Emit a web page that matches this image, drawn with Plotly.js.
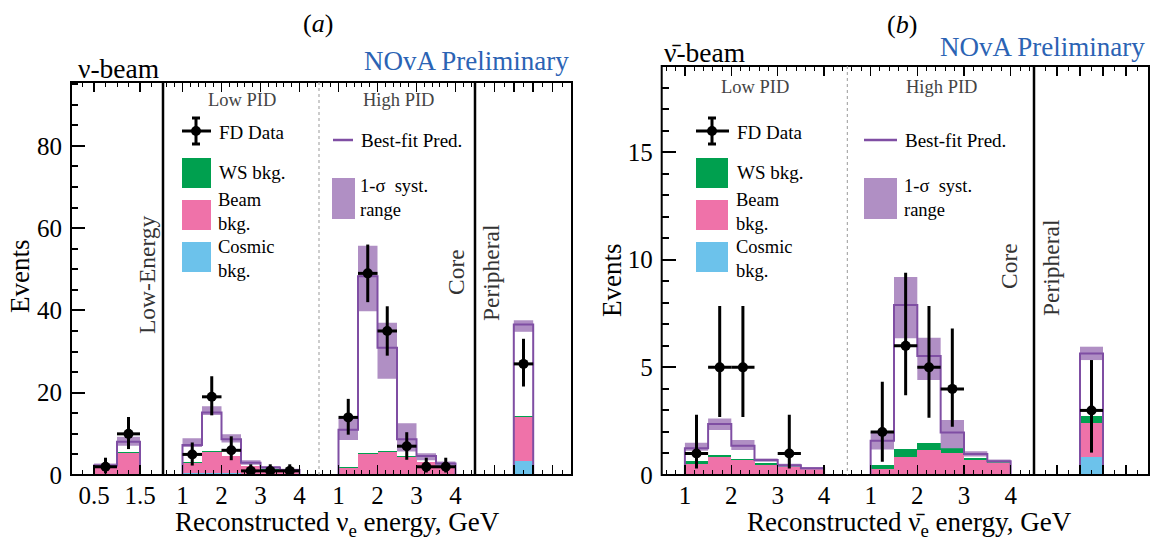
<!DOCTYPE html>
<html><head><meta charset="utf-8">
<script src="https://cdn.plot.ly/plotly-3.0.1.min.js"></script>
<style>html,body{margin:0;padding:0;background:#fff}</style>
</head><body><div id="chart" style="width:1150px;height:543px"></div>
<script>
// ---------------- DATA ----------------
// Panel (a): nu-beam
const aLE_centers = [0.75, 1.25];
const aLE_cosmic  = [0.1, 0.3];
const aLE_beam    = [1.7, 5.0];
const aLE_ws      = [0.1, 0.2];
const aLE_pred    = [2.3, 8.1];
const aLE_sysLo   = [1.9, 7.1];
const aLE_sysHi   = [2.8, 9.3];
const aLE_dataE   = [0.75, 1.25];
const aLE_data    = [2, 10];
const aLE_errUp   = [2.2, 4.1];
const aLE_errDn   = [1.6, 3.7];

const aLow_centers = [1.25, 1.75, 2.25, 2.75, 3.25, 3.75];
const aLow_cosmic  = [0.4, 0.6, 0.4, 0.2, 0.1, 0.1];
const aLow_beam    = [2.5, 5.1, 4.1, 2.0, 1.2, 0.9];
const aLow_ws      = [0.3, 0.2, 0.2, 0.1, 0.1, 0.05];
const aLow_pred    = [7.3, 15.2, 8.7, 3.0, 1.8, 1.2];
const aLow_sysLo   = [6.8, 14.6, 7.9, 2.5, 1.5, 1.0];
const aLow_sysHi   = [8.9, 16.7, 9.9, 3.6, 2.2, 1.5];
const aLow_dataE   = [1.25, 1.75, 2.25, 2.75, 3.25, 3.75];
const aLow_data    = [5, 19, 6, 1, 1, 1];
const aLow_errUp   = [2.9, 5.0, 3.4, 1.6, 1.6, 1.6];
const aLow_errDn   = [2.7, 4.5, 2.4, 0.8, 0.8, 0.8];

const aHigh_centers = [1.25, 1.75, 2.25, 2.75, 3.25, 3.75];
const aHigh_cosmic  = [0.05, 0.1, 0.1, 0.05, 0.05, 0.05];
const aHigh_beam    = [1.7, 5.0, 5.5, 4.4, 3.0, 2.3];
const aHigh_ws      = [0.2, 0.3, 0.3, 0.1, 0.1, 0.1];
const aHigh_pred    = [11.0, 48.3, 30.9, 8.7, 4.6, 2.8];
const aHigh_sysLo   = [8.5, 39.8, 23.4, 5.7, 3.6, 2.2];
const aHigh_sysHi   = [13.8, 55.7, 37.0, 12.6, 5.3, 3.3];
const aHigh_dataE   = [1.25, 1.75, 2.25, 2.75, 3.25, 3.75];
const aHigh_data    = [14, 49, 35, 7, 2, 2];
const aHigh_errUp   = [4.5, 7.0, 6.0, 3.4, 2.2, 2.2];
const aHigh_errDn   = [4.2, 7.0, 6.0, 3.3, 1.4, 1.4];

const aPer_centers = [2.5];
const aPer_cosmic  = [3.5];
const aPer_beam    = [10.6];
const aPer_ws      = [0.3];
const aPer_pred    = [36.6];
const aPer_sysLo   = [34.8];
const aPer_sysHi   = [37.6];
const aPer_dataE   = [2.5];
const aPer_data    = [27];
const aPer_errUp   = [6.1];
const aPer_errDn   = [5.5];

// Panel (b): anti-nu-beam
const bLow_centers = [1.25, 1.75, 2.25, 2.75, 3.25, 3.75];
const bLow_cosmic  = [0.04, 0.04, 0.03, 0.02, 0.01, 0.01];
const bLow_beam    = [0.47, 0.78, 0.67, 0.46, 0.38, 0.27];
const bLow_ws      = [0.14, 0.12, 0.06, 0.06, 0.03, 0.02];
const bLow_pred    = [1.24, 2.37, 1.36, 0.70, 0.45, 0.31];
const bLow_sysLo   = [1.13, 2.09, 1.16, 0.62, 0.38, 0.26];
const bLow_sysHi   = [1.50, 2.63, 1.63, 0.77, 0.52, 0.37];
const bLow_dataE   = [1.25, 1.75, 2.25, 3.25];
const bLow_data    = [1, 5, 5, 1];
const bLow_errUp   = [1.8, 2.85, 2.85, 1.8];
const bLow_errDn   = [0.7, 2.3, 2.3, 0.7];

const bHigh_centers = [1.25, 1.75, 2.25, 2.75, 3.25, 3.75];
const bHigh_cosmic  = [0.02, 0.03, 0.03, 0.02, 0.01, 0.01];
const bHigh_beam    = [0.26, 0.82, 1.13, 0.99, 0.69, 0.55];
const bHigh_ws      = [0.18, 0.36, 0.31, 0.23, 0.09, 0.04];
const bHigh_pred    = [1.59, 7.9, 5.53, 1.98, 0.98, 0.64];
const bHigh_sysLo   = [1.19, 6.35, 4.41, 1.24, 0.86, 0.58];
const bHigh_sysHi   = [2.01, 9.2, 6.38, 2.55, 1.10, 0.72];
const bHigh_dataE   = [1.25, 1.75, 2.25, 2.75];
const bHigh_data    = [2, 6, 5, 4];
const bHigh_errUp   = [2.33, 3.4, 2.85, 2.8];
const bHigh_errDn   = [1.38, 2.3, 2.34, 1.76];

const bPer_centers = [2.5];
const bPer_cosmic  = [0.85];
const bPer_beam    = [1.58];
const bPer_ws      = [0.31];
const bPer_pred    = [5.65];
const bPer_sysLo   = [5.34];
const bPer_sysHi   = [5.96];
const bPer_dataE   = [2.5];
const bPer_data    = [3];
const bPer_errUp   = [2.34];
const bPer_errDn   = [1.96];

// tick labels
const leTicks   = [0.5, 1.5];
const pidTicks  = [1, 2, 3, 4];
const perTicks  = [1, 2, 3, 4];
const aYTicks   = [0, 20, 40, 60, 80];
const bYTicks   = [0, 5, 10, 15];

// ---------------- STYLE ----------------
const W = 1150, H = 543;
const px = x => x / W, py = y => 1 - y / H;
const SERIF = '"Liberation Serif", "Times New Roman", Times, serif';
const C_GREEN = '#00a04f', C_PINK = '#ef72a9', C_BLUE = '#6cc2eb';
const C_BAND = '#b08fc4', C_PRED = '#7f4ea3';
const TICK_SIZE = 25, TITLE_SIZE = 27;

const sections = [
  {xa:'x',  ya:'y',  range:[0,2],     w:0.5, c:aLE_centers, cos:aLE_cosmic, beam:aLE_beam, ws:aLE_ws, pred:aLE_pred, lo:aLE_sysLo, hi:aLE_sysHi, dE:aLE_dataE, d:aLE_data, up:aLE_errUp, dn:aLE_errDn, ex:0.25},
  {xa:'x2', ya:'y',  range:[0.5,4.5], w:0.5, c:aLow_centers, cos:aLow_cosmic, beam:aLow_beam, ws:aLow_ws, pred:aLow_pred, lo:aLow_sysLo, hi:aLow_sysHi, dE:aLow_dataE, d:aLow_data, up:aLow_errUp, dn:aLow_errDn, ex:0.25},
  {xa:'x3', ya:'y',  range:[0.5,4.5], w:0.5, c:aHigh_centers, cos:aHigh_cosmic, beam:aHigh_beam, ws:aHigh_ws, pred:aHigh_pred, lo:aHigh_sysLo, hi:aHigh_sysHi, dE:aHigh_dataE, d:aHigh_data, up:aHigh_errUp, dn:aHigh_errDn, ex:0.25},
  {xa:'x4', ya:'y',  range:[0,5],     w:1.0, c:aPer_centers, cos:aPer_cosmic, beam:aPer_beam, ws:aPer_ws, pred:aPer_pred, lo:aPer_sysLo, hi:aPer_sysHi, dE:aPer_dataE, d:aPer_data, up:aPer_errUp, dn:aPer_errDn, ex:0.5},
  {xa:'x5', ya:'y2', range:[0.5,4.5], w:0.5, c:bLow_centers, cos:bLow_cosmic, beam:bLow_beam, ws:bLow_ws, pred:bLow_pred, lo:bLow_sysLo, hi:bLow_sysHi, dE:bLow_dataE, d:bLow_data, up:bLow_errUp, dn:bLow_errDn, ex:0.25},
  {xa:'x6', ya:'y2', range:[0.5,4.5], w:0.5, c:bHigh_centers, cos:bHigh_cosmic, beam:bHigh_beam, ws:bHigh_ws, pred:bHigh_pred, lo:bHigh_sysLo, hi:bHigh_sysHi, dE:bHigh_dataE, d:bHigh_data, up:bHigh_errUp, dn:bHigh_errDn, ex:0.25},
  {xa:'x7', ya:'y2', range:[0,5],     w:1.0, c:bPer_centers, cos:bPer_cosmic, beam:bPer_beam, ws:bPer_ws, pred:bPer_pred, lo:bPer_sysLo, hi:bPer_sysHi, dE:bPer_dataE, d:bPer_data, up:bPer_errUp, dn:bPer_errDn, ex:0.5}
];

const traces = [];
sections.forEach(s => {
  const widths = s.c.map(() => s.w);
  [[s.cos, C_BLUE], [s.beam, C_PINK], [s.ws, C_GREEN]].forEach(([vals, col]) => {
    traces.push({type:'bar', x:s.c, y:vals, width:widths, xaxis:s.xa, yaxis:s.ya,
      marker:{color:col, line:{width:0}}, hoverinfo:'skip'});
  });
  const edges = s.c.map(c => c - s.w/2).concat([s.c[s.c.length-1] + s.w/2]);
  const last = a => a.concat([a[a.length-1]]);
  traces.push({type:'scatter', mode:'lines', x:edges, y:last(s.lo), xaxis:s.xa, yaxis:s.ya,
    line:{shape:'hv', width:0, color:C_BAND}, hoverinfo:'skip'});
  traces.push({type:'scatter', mode:'lines', x:edges, y:last(s.hi), xaxis:s.xa, yaxis:s.ya,
    line:{shape:'hv', width:0, color:C_BAND}, fill:'tonexty', fillcolor:C_BAND, hoverinfo:'skip'});
  traces.push({type:'scatter', mode:'lines', x:[s.range[0]].concat(edges, [s.range[1]]),
    y:[0].concat(s.pred, [0, 0]), xaxis:s.xa, yaxis:s.ya,
    line:{shape:'hv', width:2, color:C_PRED}, hoverinfo:'skip'});
  traces.push({type:'scatter', mode:'markers', x:s.dE, y:s.d, xaxis:s.xa, yaxis:s.ya,
    marker:{color:'#000', size:10},
    error_x:{type:'constant', value:s.ex, thickness:3, width:0, color:'#000'},
    error_y:{type:'data', symmetric:false, array:s.up, arrayminus:s.dn, thickness:3, width:0, color:'#000'},
    hoverinfo:'skip'});
});

// ---------------- AXES ----------------
const yBot = py(475);
const aX = [71, 163, 319, 475, 572];
const bX = [661.7, 847.3, 1034, 1149];
function xAxis(d0, d1, anchor, range, tickvals, labels, minorD) {
  return {domain:[px(d0), px(d1)], anchor:anchor, range:range, tickmode:'array', tickvals:tickvals,
    showticklabels:labels, ticks:'inside', ticklen:10, tickwidth:1.5, tickcolor:'#000',
    mirror:'ticks', showline:false, showgrid:false, zeroline:false, fixedrange:true,
    ticklabelstandoff:3,
    tickfont:{family:SERIF, size:TICK_SIZE, color:'#000'},
    minor:{tickmode:'linear', tick0:0, dtick:minorD, ticks:'inside', ticklen:5, tickwidth:1, tickcolor:'#000', showgrid:false}};
}
function yAxis(top, anchor, range, tickvals, minorD, extra) {
  return Object.assign({domain:[yBot, py(top)], anchor:anchor, range:range, tickmode:'array', tickvals:tickvals,
    ticks:'inside', ticklen:14, tickwidth:2, tickcolor:'#000', showline:false, showgrid:false, zeroline:false,
    fixedrange:true, ticklabelstandoff:8,
    tickfont:{family:SERIF, size:TICK_SIZE, color:'#000'},
    minor:{tickmode:'linear', tick0:0, dtick:minorD, ticks:'inside', ticklen:7, tickwidth:2, tickcolor:'#000', showgrid:false}}, extra || {});
}

const layout = {
  width:W, height:H, margin:{l:0, r:0, t:0, b:0}, paper_bgcolor:'#fff', plot_bgcolor:'rgba(0,0,0,0)',
  showlegend:false, barmode:'stack', bargap:0,
  xaxis:  xAxis(aX[0], aX[1], 'y', [0,2], leTicks, true, 0.25),
  xaxis2: xAxis(aX[1], aX[2], 'y', [0.5,4.5], pidTicks, true, 0.2),
  xaxis3: xAxis(aX[2], aX[3], 'y', [0.5,4.5], pidTicks, true, 0.2),
  xaxis4: xAxis(aX[3], aX[4], 'y', [0,5], perTicks, false, 0.5),
  xaxis5: xAxis(bX[0], bX[1], 'y2', [0.5,4.5], pidTicks, true, 0.2),
  xaxis6: xAxis(bX[1], bX[2], 'y2', [0.5,4.5], pidTicks, true, 0.2),
  xaxis7: xAxis(bX[2], bX[3], 'y2', [0,5], perTicks, false, 0.5),
  yaxis:  yAxis(82, 'x', [0, 95.5], aYTicks, 5),
  yaxis2: yAxis(66, 'x5', [0, 19], bYTicks, 1),
  yaxis3: yAxis(82, 'x4', [0, 95.5], aYTicks, 5, {overlaying:'y', side:'right', showticklabels:false}),
  yaxis4: yAxis(66, 'x7', [0, 19], bYTicks, 1, {overlaying:'y2', side:'right', showticklabels:false}),
  shapes: [],
  annotations: []
};

// frames and separators
const S = layout.shapes;
function line(x0,y0,x1,y1,color,width,dash){S.push({type:'line', xref:'paper', yref:'paper', x0:px(x0), y0:py(y0), x1:px(x1), y1:py(y1), line:{color:color, width:width, dash:dash||'solid'}, layer:'above'});}
function rect(x0,y0,x1,y1,fill){S.push({type:'rect', xref:'paper', yref:'paper', x0:px(x0), y0:py(y0), x1:px(x1), y1:py(y1), fillcolor:fill, line:{width:0}, layer:'above'});}
S.push({type:'rect', xref:'paper', yref:'paper', x0:px(71), y0:py(82), x1:px(572), y1:py(475), line:{color:'#000', width:2}, layer:'above'});
S.push({type:'rect', xref:'paper', yref:'paper', x0:px(661.7), y0:py(66), x1:px(1149), y1:py(475), line:{color:'#000', width:2}, layer:'above'});
line(163,82,163,475,'#000',2.5);
line(319,82,319,475,'#999',1,'dot');
line(475,82,475,475,'#000',2.5);
line(847.3,66,847.3,475,'#999',1,'dot');
line(1034,66,1034,475,'#000',2.5);

// legend swatches
function fdSymbol(cx, x0, x1){
  line(x0,131,x1,131,'#000',3);
  line(cx,118,cx,144,'#000',3);
  line(cx-4,118,cx+4,118,'#000',3);
  line(cx-4,144,cx+4,144,'#000',3);
  S.push({type:'circle', xref:'paper', yref:'paper', x0:px(cx-5), y0:py(126), x1:px(cx+5), y1:py(136), fillcolor:'#000', line:{width:0}, layer:'above'});
}
fdSymbol(196, 182, 211);
rect(182,158,211,188,C_GREEN); rect(182,200,211,230,C_PINK); rect(182,242,211,272,C_BLUE);
line(333,140,353,140,C_PRED,2.5); rect(332,178,355,219,C_BAND);
fdSymbol(712, 696, 729);
rect(696,158,728,188,C_GREEN); rect(696,200,728,230,C_PINK); rect(696,242,728,272,C_BLUE);
line(864,140,897,140,C_PRED,2.5); rect(864,178,897,219,C_BAND);

// texts
const A = layout.annotations;
function txt(x, y, text, size, opts){
  A.push(Object.assign({xref:'paper', yref:'paper', x:px(x), y:py(y), text:text, showarrow:false,
    xanchor:'center', yanchor:'middle', font:{family:SERIF, size:size, color:'#000'}}, opts||{}));
}
const L = {xanchor:'left', align:'left'};
const LEG = 19;
const LEG2 = {xanchor:'left', align:'left', borderpad:0, font:{family:SERIF, size:18.5, color:'#000'}};
const secFont = {family:SERIF, size:23.5, color:'#333'};
const pidFont = {family:SERIF, size:18.5, color:'#444'};
const blue = {family:SERIF, size:27, color:'#2b63b4'};
// panel a
txt(318, 23, '(<i>a</i>)', 26);
txt(76, 68, 'ν-beam', 27.5, L);
txt(571, 61, 'NOvA Preliminary', 27, {xanchor:'right', font:blue});
txt(20, 276, 'Events', TITLE_SIZE, {textangle:-90});
txt(337, 524, 'Reconstructed ν<sub>e</sub> energy, GeV', TITLE_SIZE);
txt(147, 275, 'Low-Energy', 23.5, {textangle:-90, font:secFont});
txt(456, 272, 'Core', 23.5, {textangle:-90, font:secFont});
txt(491, 273, 'Peripheral', 23.5, {textangle:-90, font:secFont});
txt(242, 100, 'Low PID', 18.5, {font:pidFont});
txt(398, 100, 'High PID', 18.5, {font:pidFont});
txt(217, 132, 'FD Data', LEG, L);
txt(217, 172, 'WS bkg.', LEG, L);
txt(217, 212, 'Beam<br>bkg.', LEG, LEG2);
txt(217, 259, 'Cosmic<br>bkg.', LEG, LEG2);
txt(359, 140, 'Best-fit Pred.', LEG, L);
txt(359, 198, '1-σ  syst.<br>range', LEG, LEG2);
// panel b
txt(902, 24, '(<i>b</i>)', 26);
txt(662, 53, 'ν̄-beam', 27.5, L);
txt(1147, 47, 'NOvA Preliminary', 27, {xanchor:'right', font:blue});
txt(612, 280, 'Events', TITLE_SIZE, {textangle:-90});
txt(909, 524, 'Reconstructed ν̄<sub>e</sub> energy, GeV', TITLE_SIZE);
txt(1008.5, 266.5, 'Core', 23.5, {textangle:-90, font:secFont});
txt(1051, 268, 'Peripheral', 23.5, {textangle:-90, font:secFont});
txt(755, 87, 'Low PID', 18.5, {font:pidFont});
txt(941, 87, 'High PID', 18.5, {font:pidFont});
txt(735, 132, 'FD Data', LEG, L);
txt(735, 172, 'WS bkg.', LEG, L);
txt(735, 212, 'Beam<br>bkg.', LEG, LEG2);
txt(735, 259, 'Cosmic<br>bkg.', LEG, LEG2);
txt(903, 140, 'Best-fit Pred.', LEG, L);
txt(903, 198, '1-σ  syst.<br>range', LEG, LEG2);

Plotly.newPlot('chart', traces, layout, {displayModeBar:false, staticPlot:true});
</script></body></html>
